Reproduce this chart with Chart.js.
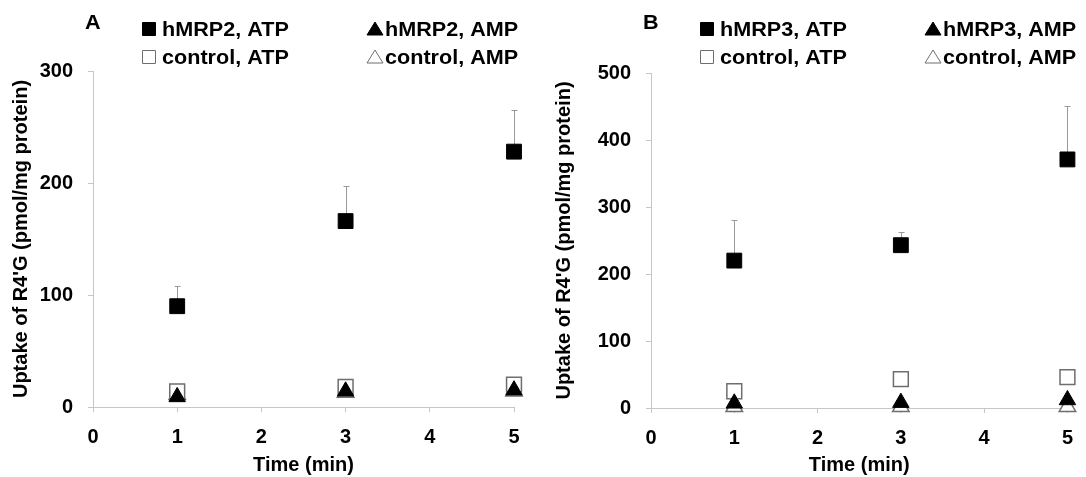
<!DOCTYPE html>
<html>
<head>
<meta charset="utf-8">
<title>R4'G uptake into hMRP2 / hMRP3 vesicles</title>
<script src="https://cdn.jsdelivr.net/npm/chart.js@4.4.0/dist/chart.umd.min.js"></script>
<style>
  body { margin: 0; background: #fff; }
  .panel { position: absolute; top: 0; width: 543px; height: 477px; }
</style>
</head>
<body>
<div class="panel" style="left:0"><canvas id="chartA" width="543" height="477"></canvas></div>
<div class="panel" style="left:543px"><canvas id="chartB" width="543" height="477"></canvas></div>
<script>
const times = [1, 3, 5];
const xTicks = [0, 1, 2, 3, 4, 5];

// A: hMRP2
const mrp2Atp = [90, 166, 228];
const mrp2AtpSd = [18, 31, 37];
const mrp2Amp = [9, 14, 15];
const ctrlAtpA = [14, 18, 20];
const ctrlAmpA = [11, 13, 14];
const yTicksA = [0, 100, 200, 300];

// B: hMRP3
const mrp3Atp = [220, 243, 371];
const mrp3AtpSd = [61, 20, 80];
const mrp3Amp = [7, 8, 12];
const ctrlAtpB = [25, 43, 46];
const ctrlAmpB = [2, 2, 2];
const yTicksB = [0, 100, 200, 300, 400, 500];

const FONT = '"Liberation Sans", Arial, sans-serif';
Chart.defaults.font.family = FONT;
Chart.defaults.font.size = 20;
Chart.defaults.font.weight = 'bold';
Chart.defaults.color = '#000';

function pts(ys) {
  return ys.map((v, i) => ({ x: times[i], y: v }));
}

// upper-only SD bars, drawn under the markers
const errorBars = {
  id: 'errorBars',
  beforeDatasetsDraw(chart) {
    const ctx = chart.ctx, xs = chart.scales.x, ys = chart.scales.y;
    chart.data.datasets.forEach(ds => {
      if (!ds.sd) return;
      ctx.save();
      ctx.strokeStyle = '#9a9a9a';
      ctx.lineWidth = 1;
      ds.data.forEach((p, i) => {
        const px = Math.round(xs.getPixelForValue(p.x)) + 0.5;
        const py = ys.getPixelForValue(p.y);
        const top = Math.round(ys.getPixelForValue(p.y + ds.sd[i])) + 0.5;
        ctx.beginPath();
        ctx.moveTo(px, py);
        ctx.lineTo(px, top);
        ctx.moveTo(px - 3, top);
        ctx.lineTo(px + 3, top);
        ctx.stroke();
      });
      ctx.restore();
    });
  }
};

function drawIcon(ctx, ds, x, y) {
  ctx.fillStyle = ds.backgroundColor;
  ctx.strokeStyle = ds.borderColor;
  ctx.lineWidth = 1;
  ctx.beginPath();
  if (ds.pointStyle === 'rect') {
    ctx.rect(x + 0.5, y - 6.5, 13, 13);
  } else {
    ctx.moveTo(x + 8, y - 7);
    ctx.lineTo(x + 16, y + 6);
    ctx.lineTo(x, y + 6);
    ctx.closePath();
  }
  ctx.fill();
  ctx.stroke();
}

// legend labels are a touch wide, like the printed figure
function wideText(ctx, text, x, y) {
  ctx.save();
  ctx.translate(x, y);
  ctx.scale(1.08, 1);
  ctx.fillText(text, 0, 0);
  ctx.restore();
}

// panel letter + 2x2 legend above the plot
const panelLegend = {
  id: 'panelLegend',
  afterDraw(chart, args, opts) {
    const ctx = chart.ctx;
    const left = chart.chartArea.left;
    ctx.save();
    ctx.font = 'bold 20px ' + FONT;
    ctx.textBaseline = 'middle';
    ctx.fillStyle = '#000';
    wideText(ctx, opts.letter, left - 8, 23);
    const cols = [left + 49, left + 274];
    const rows = [29, 57];
    chart.data.datasets.forEach((ds, i) => {
      const x = cols[Math.floor(i / 2)];
      const y = rows[i % 2];
      drawIcon(ctx, ds, x, y);
      ctx.fillStyle = '#000';
      wideText(ctx, ds.label, x + (ds.pointStyle === 'rect' ? 20 : 18), y + 1);
    });
    ctx.restore();
  }
};

function makePanel(id, letter, names, series, sd, yTicks, yWidth, pad, xBottom, titleX) {
  const filled = { backgroundColor: '#000', borderColor: '#000', borderWidth: 1 };
  const open = { backgroundColor: '#fff', borderColor: '#6e6e6e', borderWidth: 1.5 };
  const datasets = [
    Object.assign({ label: names[0], data: pts(series[0]), sd: sd, pointStyle: 'rect', pointRadius: 10.5, order: 0 }, filled),
    Object.assign({ label: names[1], data: pts(series[1]), pointStyle: 'rect', pointRadius: 10.5, order: 2 }, open),
    Object.assign({ label: names[2], data: pts(series[2]), pointStyle: 'triangle', pointRadius: 9.5, order: 1 }, filled),
    Object.assign({ label: names[3], data: pts(series[3]), pointStyle: 'triangle', pointRadius: 9.5, order: 3 }, open)
  ];
  datasets.forEach(ds => { ds.clip = false; ds.showLine = false; });

  return new Chart(document.getElementById(id), {
    type: 'scatter',
    data: { datasets: datasets },
    options: {
      responsive: false,
      animation: false,
      layout: { padding: pad },
      plugins: {
        legend: { display: false },
        tooltip: { enabled: false },
        panelLegend: { letter: letter }
      },
      scales: {
        x: {
          type: 'linear',
          min: xTicks[0],
          max: xTicks[xTicks.length - 1],
          afterBuildTicks: s => { s.ticks = xTicks.map(v => ({ value: v })); },
          afterFit: s => { s.height = 477 - xBottom; },
          grid: { drawOnChartArea: false, color: '#c6c6c6', tickLength: 5 },
          border: { color: '#c6c6c6' },
          ticks: { padding: 13, font: { size: 20 } },
          title: { display: true, text: 'Time (min)', font: { size: 20 }, padding: { top: 4, bottom: 0 } }
        },
        y: {
          type: 'linear',
          min: yTicks[0],
          max: yTicks[yTicks.length - 1],
          afterBuildTicks: s => { s.ticks = yTicks.map(v => ({ value: v })); },
          afterFit: s => { s.width = yWidth; },
          grid: { drawOnChartArea: false, color: '#c6c6c6', tickLength: 5 },
          border: { color: '#c6c6c6' },
          ticks: { padding: 15, font: { size: 20 } },
          title: {
            display: true,
            text: "Uptake of R4'G (pmol/mg protein)",
            font: { size: 20 },
            padding: { top: titleX, bottom: 0 }
          }
        }
      }
    },
    plugins: [errorBars, panelLegend]
  });
}

makePanel('chartA', 'A',
  ['hMRP2, ATP', 'control, ATP', 'hMRP2, AMP', 'control, AMP'],
  [mrp2Atp, ctrlAtpA, mrp2Amp, ctrlAmpA], mrp2AtpSd, yTicksA,
  93, { top: 71, right: 29, bottom: 0, left: 0 }, 407, 9);

makePanel('chartB', 'B',
  ['hMRP3, ATP', 'control, ATP', 'hMRP3, AMP', 'control, AMP'],
  [mrp3Atp, ctrlAtpB, mrp3Amp, ctrlAmpB], mrp3AtpSd, yTicksB,
  108, { top: 73, right: 15, bottom: 0, left: 0 }, 408, 9);
</script>
</body>
</html>
